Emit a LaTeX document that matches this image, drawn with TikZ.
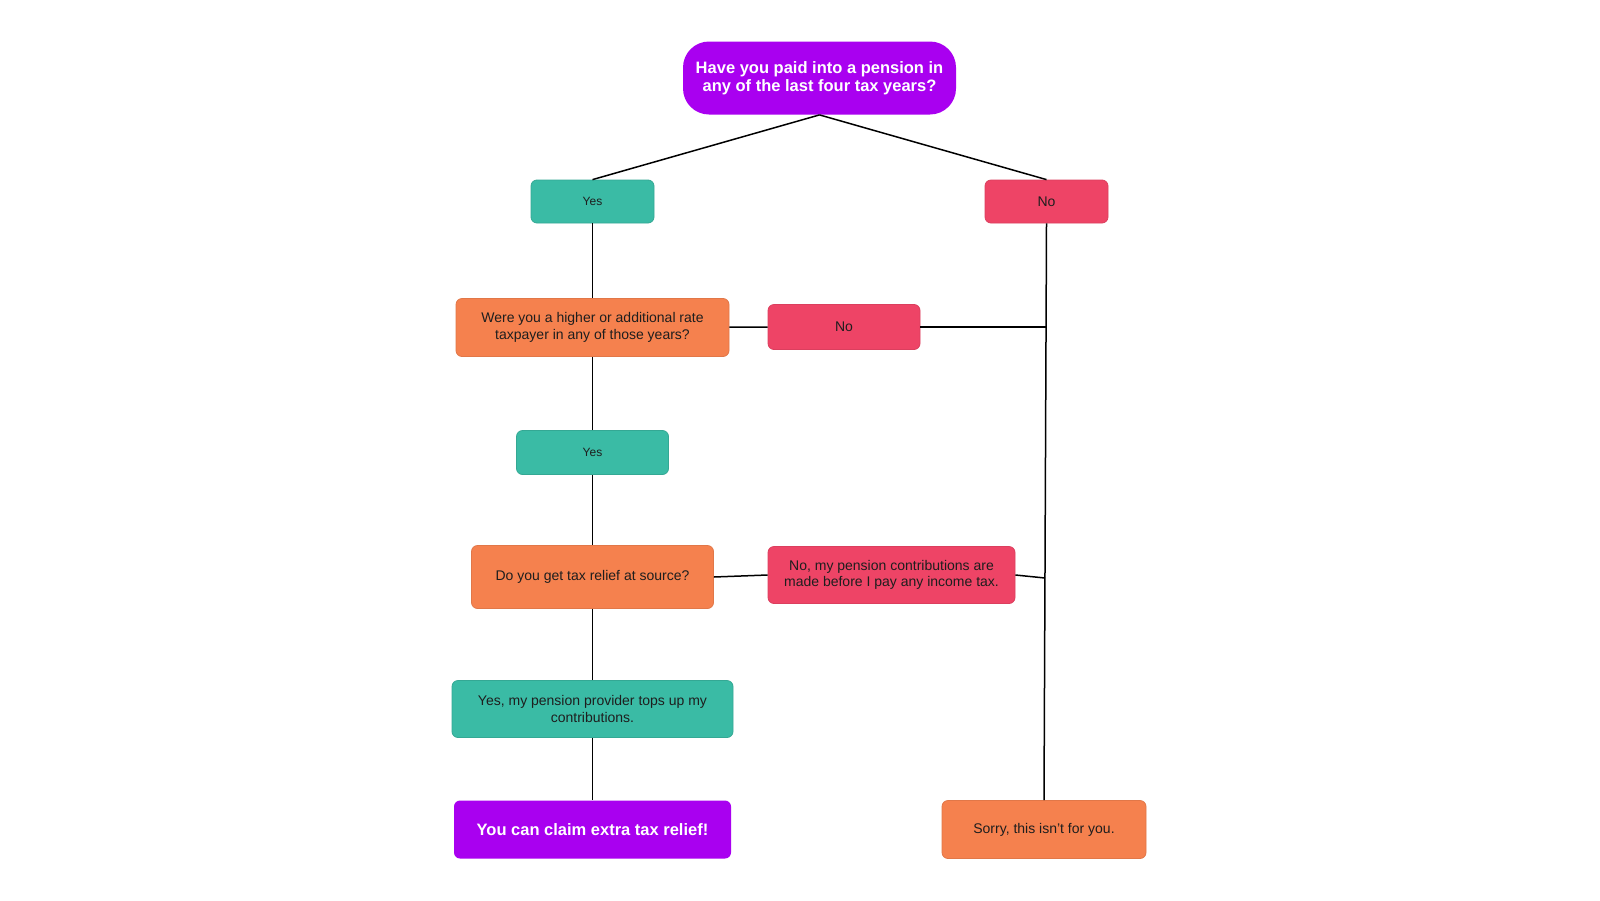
\documentclass[tikz,border=0pt]{standalone}
\usepackage{fontspec}
\setmainfont{Liberation Sans}
\usepackage{tikz}
\definecolor{quest}{HTML}{A900F0}
\definecolor{yesbox}{HTML}{3ABBA5}
\definecolor{nobox}{HTML}{EE4466}
\definecolor{askbox}{HTML}{F5814E}
\definecolor{ink}{HTML}{1E1E1E}

\begin{document}
\begin{tikzpicture}[x=1pt,y=-1pt,font=\fontsize{14}{16.3}\selectfont,
    box/.style={rounded corners=6pt,inner sep=0pt,align=center,text=ink,line width=.8pt},
    yesnode/.style={box,fill=yesbox,draw=yesbox!90!black,font=\fontsize{12}{16.3}\selectfont},
    nonode/.style={box,fill=nobox,draw=nobox!92!black},
    asknode/.style={box,fill=askbox,draw=askbox!92!black},
    endnode/.style={box,fill=quest,text=white,font=\bfseries\fontsize{16.5}{18.4}\selectfont},
    link/.style={line width=1.5pt,black}]
  \useasboundingbox (0,0) rectangle (1600,900);
  \node[endnode,rounded corners=26pt,minimum width=273pt,minimum height=73pt] (start) at (819.5,78)
    {Have you paid into a pension in\\any of the last four tax years?};
  \node[yesnode,minimum width=123pt,minimum height=43pt] (yes1) at (592.5,201.5) {Yes};
  \node[nonode,minimum width=123pt,minimum height=43pt] (no1) at (1046.5,201.5) {No};
  \node[asknode,minimum width=273pt,minimum height=58pt] (rate) at (592.5,327.5)
    {Were you a higher or additional rate\\taxpayer in any of those years?};
  \node[nonode,minimum width=152pt,minimum height=45pt] (no2) at (844,327) {No};
  \node[yesnode,minimum width=152pt,minimum height=44pt] (yes2) at (592.5,452.5) {Yes};
  \node[asknode,minimum width=242pt,minimum height=63pt] (source) at (592.5,577)
    {Do you get tax relief at source?};
  \node[nonode,minimum width=247pt,minimum height=57pt] (no3) at (891.5,575)
    {No, my pension contributions are\\made before I pay any income tax.};
  \node[yesnode,font=\fontsize{14}{16.3}\selectfont,minimum width=281pt,minimum height=57pt] (yes3) at (592.5,709)
    {Yes, my pension provider tops up my\\contributions.};
  \node[endnode,minimum width=277pt,minimum height=58pt] (claim) at (592.5,829.5) {You can claim extra tax relief!};
  \node[asknode,minimum width=204pt,minimum height=58pt] (sorry) at (1044,829.5) {Sorry, this isn't for you.};
  % connectors
  \draw[link] (start.south) -- (yes1.north);
  \draw[link] (start.south) -- (no1.north);
  \draw[link] (no1.south) -- (sorry.north);
  \coordinate (join2) at (1046,327);
  \coordinate (join3) at (1045,578);
  \draw[link] (yes1) -- (rate);
  \draw[link] (rate) -- (no2);
  \draw[link] (no2.east) -- (join2);
  \draw[link] (rate) -- (yes2);
  \draw[link] (yes2) -- (source);
  \draw[link] (source.east) -- (no3.west);
  \draw[link] (no3.east) -- (join3);
  \draw[link] (source) -- (yes3);
  \draw[link] (yes3) -- (claim);
\end{tikzpicture}
\end{document}
